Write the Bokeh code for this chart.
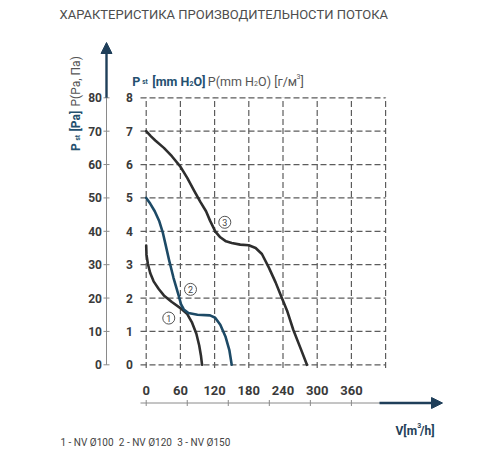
import math
from bokeh.plotting import figure
from bokeh.models import Range1d, Arrow, NormalHead
from bokeh.core.properties import value
from bokeh.embed import file_html
from bokeh.resources import INLINE

# ---------------- data ----------------
TITLE = "ХАРАКТЕРИСТИКА ПРОИЗВОДИТЕЛЬНОСТИ ПОТОКА"
X_TICKS = [0, 60, 120, 180, 240, 300, 360]          # V, m3/h (labels)
X_GRID = [0, 60, 120, 180, 240, 300, 360, 420]       # vertical grid lines
X_AXIS_MARKS = [0, 72, 144, 216, 288, 360]           # tick marks on the V arrow
MM_TICKS = [0, 1, 2, 3, 4, 5, 6, 7, 8]               # mm H2O
PA_TICKS = [0, 10, 20, 30, 40, 50, 60, 70, 80]       # Pa
PA_PER_MM = 10

# curve 1 - NV Ø100
c1_x = [0, 0.5, 3, 7, 13, 22, 31, 45, 60, 72, 80, 88, 93, 96, 98]
c1_y = [3.57, 3.3, 3.02, 2.75, 2.5, 2.27, 2.08, 1.88, 1.7, 1.52, 1.28, 0.93, 0.58, 0.28, 0]
# curve 2 - NV Ø120
c2_x = [0, 7, 15, 23, 29, 34, 40, 48, 57, 61, 66, 74, 90, 112, 121, 130, 139, 146, 150]
c2_y = [5.0, 4.83, 4.6, 4.3, 3.97, 3.6, 3.15, 2.6, 2.07, 1.82, 1.66, 1.55, 1.5, 1.48, 1.41, 1.2, 0.85, 0.43, 0]
# curve 3 - NV Ø150
c3_x = [0, 8, 16, 31, 45, 60, 72, 84, 95, 105, 112, 121, 130, 140, 150, 165, 180, 192, 203, 215,
        227, 238, 247, 258, 270, 282]
c3_y = [7.0, 6.85, 6.72, 6.5, 6.25, 5.94, 5.6, 5.22, 4.88, 4.6, 4.32, 4.0, 3.82, 3.7, 3.65, 3.6, 3.58,
        3.5, 3.32, 2.92, 2.47, 2.0, 1.63, 1.05, 0.53, 0]

CURVE_TAGS = ["1", "2", "3"]
TAG_X = [39.6, 77.7, 137.9]
TAG_Y = [1.4, 2.26, 4.27]

LEGEND_LABELS = ["1 - NV Ø100", "2 - NV Ø120", "3 - NV Ø150"]

# ---------------- layout ----------------
W, H = 500, 450
SX = 0.57       # px per m3/h
SY = 33.375     # px per mm H2O
OX = 145.7      # canvas px of V = 0
OY = 364.3      # canvas px (from top) of P = 0

FONT = "Roboto"
NAVY = "#1f3f5a"
BLUE_TXT = "#24506f"
GRAY_TXT = "#555555"
DARK_TXT = "#3a3a3a"
GRID_C = "#5c5c5c"
AXIS_GRAY = "#8a8a8a"
CURVE_DARK = "#2e2e2e"
CURVE_BLUE = "#1d4a66"


def dx(px):
    return (px - OX) / SX


def dy(py):
    return (OY - py) / SY


p = figure(width=W, height=H,
           x_range=Range1d(dx(0), dx(W)),
           y_range=Range1d(dy(H), dy(0)),
           x_axis_type=None, y_axis_type=None,
           toolbar_location=None, output_backend="svg",
           min_border=0, outline_line_color=None, title=None)
p.background_fill_color = "white"
p.border_fill_color = "white"


def txt(px, py, s, size, color, bold=False, align="left", baseline="alphabetic", angle=0.0):
    p.text(x=[dx(px)], y=[dy(py)], text=[s], text_font=value(FONT),
           text_font_size=f"{size}px", text_font_style="bold" if bold else "normal",
           text_color=color, text_align=align, text_baseline=baseline, angle=angle)


# grid
n = len(MM_TICKS)
p.segment(x0=[dx(140)] * n, y0=MM_TICKS, x1=[X_GRID[-1]] * n, y1=MM_TICKS,
          line_color=GRID_C, line_width=1.2, line_dash="6 3")
m = len(X_GRID)
p.segment(x0=X_GRID, y0=[dy(367.5)] * m, x1=X_GRID, y1=[MM_TICKS[-1]] * m,
          line_color=GRID_C, line_width=1.2, line_dash="6 3")

# curves
p.line(c1_x, c1_y, line_color=CURVE_DARK, line_width=2.6, line_join="round", line_cap="round")
p.line(c2_x, c2_y, line_color=CURVE_BLUE, line_width=2.6, line_join="round", line_cap="round")
p.line(c3_x, c3_y, line_color=CURVE_DARK, line_width=2.6, line_join="round", line_cap="round")

# curve tags
p.scatter(TAG_X, TAG_Y, marker="circle", size=12, fill_color="white",
          line_color="#555555", line_width=1)
p.text(TAG_X, TAG_Y, text=CURVE_TAGS, text_font=value(FONT), text_font_size="9px",
       text_align="center", text_baseline="middle", text_color="#444444")

# Pa axis (left) with arrow
AX = dx(106)
p.segment(x0=[AX], y0=[MM_TICKS[0]], x1=[AX], y1=[MM_TICKS[-1]], line_color=AXIS_GRAY, line_width=1)
pa_y = [v / PA_PER_MM for v in PA_TICKS]
p.segment(x0=[dx(103)] * len(pa_y), y0=pa_y, x1=[dx(109)] * len(pa_y), y1=pa_y,
          line_color=AXIS_GRAY, line_width=1)
p.add_layout(Arrow(x_start=AX, y_start=MM_TICKS[-1], x_end=AX, y_end=dy(42),
                   line_color=NAVY, line_width=2.4,
                   end=NormalHead(size=11, fill_color=NAVY, line_color=NAVY)))
p.text(x=[dx(101.5)] * len(PA_TICKS), y=pa_y, text=[str(v) for v in PA_TICKS],
       text_font=value(FONT), text_font_size="12px", text_font_style="bold",
       text_color=DARK_TXT, text_align="right", text_baseline="middle")
p.text(x=[dx(129)] * len(MM_TICKS), y=MM_TICKS, text=[str(v) for v in MM_TICKS],
       text_font=value(FONT), text_font_size="12px", text_font_style="bold",
       text_color=DARK_TXT, text_align="center", text_baseline="middle")

# V axis (bottom) with arrow
XA_Y = dy(402.5)
p.segment(x0=[dx(140)], y0=[XA_Y], x1=[dx(380)], y1=[XA_Y], line_color=AXIS_GRAY, line_width=1)
k = len(X_AXIS_MARKS)
p.segment(x0=X_AXIS_MARKS, y0=[dy(399.5)] * k, x1=X_AXIS_MARKS, y1=[dy(405.5)] * k,
          line_color=AXIS_GRAY, line_width=1)
p.add_layout(Arrow(x_start=dx(379), y_start=XA_Y, x_end=dx(442), y_end=XA_Y,
                   line_color=NAVY, line_width=2.4,
                   end=NormalHead(size=11, fill_color=NAVY, line_color=NAVY)))
p.text(x=X_TICKS, y=[dy(390)] * len(X_TICKS), text=[str(v) for v in X_TICKS],
       text_font=value(FONT), text_font_size="13px", text_font_style="bold",
       text_color=DARK_TXT, text_align="center", text_baseline="middle")

# title
txt(59, 14, TITLE, 13, "#4d4d4d")

# top axis label:  P_st [mm H2O] P(mm H2O) [г/м3]
txt(131.7, 80.7, "P", 12.5, BLUE_TXT, bold=True)
txt(141.7, 81.5, "st", 6.5, BLUE_TXT, bold=True)
txt(151.7, 80.7, "[mm H", 12.5, BLUE_TXT, bold=True)
txt(189.0, 83.0, "2", 7, BLUE_TXT, bold=True)
txt(193.0, 80.7, "O]", 12.5, BLUE_TXT, bold=True)
txt(207.3, 80.7, "P(mm H", 12.5, GRAY_TXT)
txt(253.6, 83.0, "2", 7, GRAY_TXT)
txt(257.6, 80.7, "O) [г/м", 12.5, GRAY_TXT)
txt(296.0, 76.0, "3", 7, GRAY_TXT)
txt(300.0, 80.7, "]", 12.5, GRAY_TXT)

# rotated left label:  P_st [Pa] P(Pa, Па)
A = math.pi / 2
txt(75.5, 150.5, "P", 12, BLUE_TXT, bold=True, angle=A)
txt(77.0, 140.0, "st", 6.5, BLUE_TXT, bold=True, angle=A)
txt(75.5, 131.0, "[Pa]", 12, BLUE_TXT, bold=True, angle=A)
txt(75.5, 106.0, "P(Pa, Па)", 12, GRAY_TXT, angle=A)

# V label
txt(395, 430, "V[m", 12, NAVY, bold=True)
txt(416.8, 425, "3", 7, NAVY, bold=True)
txt(419.6, 430, "/h]", 12, NAVY, bold=True)

# legend line
for lx, lab in zip([60, 118.3, 176.7], LEGEND_LABELS):
    txt(lx, 442, lab, 10, "#444444")

open("out.html", "w").write(file_html(p, INLINE))
